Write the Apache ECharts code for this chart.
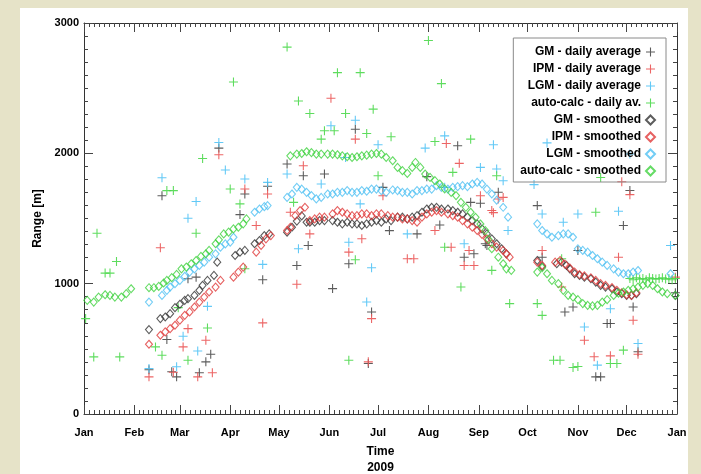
<!DOCTYPE html>
<html>
<head>
<meta charset="utf-8">
<title>Range 2009</title>
<script src="https://cdn.jsdelivr.net/npm/echarts@6/dist/echarts.min.js"></script>
<style>
  html, body { margin: 0; padding: 0; }
  body { width: 701px; height: 474px; background: #E6E3C8; position: relative; overflow: hidden; }
  #panel { position: absolute; left: 20px; top: 8px; width: 668px; height: 466px; background: #ffffff; }
  #chart { position: absolute; left: 0; top: 0; width: 701px; height: 474px; }
</style>
</head>
<body>
<div id="panel"></div>
<div id="chart"></div>
<script>
// Month tick labels
const MONTHS = ['Jan', 'Feb', 'Mar', 'Apr', 'May', 'Jun', 'Jul', 'Aug', 'Sep', 'Oct', 'Nov', 'Dec'];
const YEAR = 2009;

// Daily averages: [day of year (0 = 1 Jan), range in m]
const gmDaily = [
  [40, 339], [48, 1675], [51, 571], [54, 324], [57, 285], [64, 1038], [69, 1050], [71, 316], [75, 400],
  [78, 459], [83, 2040], [96, 1530], [99, 1688], [110, 1030], [113, 1747],
  [125, 1918], [135, 1828], [131, 1140], [138, 1293], [148, 1841], [153, 962], [163, 1153], [167, 2185],
  [175, 388], [177, 783], [184, 1739], [188, 1407], [205, 1382], [211, 1821], [219, 1450], [230, 2058],
  [234, 1203], [238, 1624], [240, 1229], [244, 1617], [247, 1306], [248, 1293], [255, 1701],
  [279, 1599], [282, 1203], [296, 783], [301, 821], [304, 1255], [315, 285], [318, 285], [322, 694],
  [324, 694], [332, 1446], [336, 1715], [338, 821], [341, 478], [364, 930]
];
const ipmDaily = [
  [40, 285], [47, 1275], [55, 320], [61, 515], [64, 655], [70, 285], [75, 566], [79, 316], [83, 1989],
  [99, 1726], [106, 1446], [110, 699], [113, 1688],
  [127, 1548], [131, 995], [135, 1905], [139, 1382], [152, 2423], [163, 1242], [167, 2109], [171, 1344],
  [175, 400], [177, 732], [184, 1675], [199, 1191], [203, 1191], [216, 1408], [223, 2075], [226, 1280],
  [231, 1923], [234, 1140], [237, 1255], [240, 1140], [244, 1675], [251, 1561], [252, 1545], [255, 1650],
  [258, 1662],
  [282, 1255], [294, 974], [308, 566], [314, 439], [324, 446], [329, 1203], [331, 1782], [336, 1683],
  [338, 719], [341, 459], [364, 1050]
];
const lgmDaily = [
  [40, 349], [48, 1813], [57, 362], [61, 597], [64, 1502], [69, 1630], [70, 484], [76, 826], [83, 2083],
  [87, 1872], [99, 1803], [110, 1148], [113, 1777],
  [125, 1841], [132, 1268], [146, 1765], [152, 2211], [161, 1968], [163, 1318], [167, 2254], [170, 1612],
  [174, 859], [177, 1122], [181, 2066], [199, 1382], [210, 2040], [222, 2134], [222, 1739], [234, 1306],
  [244, 1892], [252, 2066], [254, 1880], [258, 1790], [261, 1408],
  [277, 1760], [282, 1535], [285, 2080], [295, 1471], [304, 1535], [308, 668], [316, 375], [324, 808],
  [329, 1555], [336, 1995], [341, 541], [361, 1293]
];
const autoDaily = [
  [1, 732], [6, 438], [8, 1387], [13, 1081], [16, 1081], [20, 1170], [22, 438],
  [44, 515], [48, 451], [51, 1714], [55, 1714], [58, 816], [64, 413], [69, 1387], [73, 1961], [76, 660],
  [90, 1726], [92, 2547], [96, 1612], [99, 1114],
  [125, 2815], [129, 1624], [132, 2402], [139, 2305], [146, 2109], [148, 2173], [154, 2173], [156, 2619],
  [161, 2305], [163, 413], [167, 1183], [170, 2619], [174, 2152], [178, 2339], [181, 1828], [189, 2127],
  [212, 2866], [216, 2091], [220, 2535], [222, 1280], [227, 1854], [232, 974], [238, 2109], [251, 1102],
  [254, 1828], [262, 847],
  [279, 847], [282, 757], [289, 413], [293, 413], [294, 1191], [301, 357], [304, 365], [315, 1548],
  [318, 1815], [324, 388], [328, 388], [332, 490],
  [336, 1040], [338, 1030], [340, 1045], [342, 1035], [344, 1040], [346, 1030], [348, 1045], [350, 1040],
  [352, 1035], [354, 1040], [356, 1045], [358, 1035], [360, 1040], [362, 1030], [364, 1040]
];

// Smoothed values: [day of year, range in m]
const gmSmooth = [
  [40, 648], [47, 732], [50, 744], [53, 770], [56, 816], [59, 842], [62, 872], [64, 885], [68, 910],
  [71, 949], [73, 987], [76, 1025], [80, 1063], [82, 1165], [93, 1216], [96, 1242], [99, 1255],
  [105, 1306], [108, 1331], [111, 1369], [114, 1382],
  [125, 1395], [128, 1433], [131, 1480], [134, 1520], [137, 1471], [139, 1471], [142, 1471], [145, 1484],
  [148, 1484], [153, 1484], [156, 1471], [159, 1459], [162, 1471], [165, 1459], [168, 1459], [171, 1446],
  [174, 1459], [177, 1471], [180, 1484], [183, 1471], [186, 1497], [189, 1484], [193, 1510], [196, 1510],
  [199, 1497], [202, 1510], [205, 1522], [208, 1548], [211, 1573], [214, 1586], [217, 1586], [220, 1573],
  [224, 1573], [227, 1561], [230, 1548], [233, 1535], [236, 1510], [239, 1484], [242, 1459], [245, 1420],
  [248, 1382], [251, 1344], [254, 1306], [257, 1268], [260, 1229],
  [279, 1178], [282, 1132], [291, 1153], [294, 1165], [297, 1140], [299, 1114], [302, 1076], [305, 1063],
  [308, 1050], [312, 1038], [315, 1012], [318, 987], [321, 974], [325, 961], [328, 936], [331, 923],
  [334, 910], [337, 910], [340, 923], [364, 910]
];
const ipmSmooth = [
  [40, 535], [47, 604], [50, 630], [53, 655], [56, 681], [59, 719], [62, 757], [65, 783], [68, 821],
  [71, 859], [74, 897], [77, 936], [81, 974], [84, 1025], [92, 1050], [95, 1089], [98, 1127],
  [106, 1242], [109, 1293], [112, 1344], [115, 1369],
  [125, 1408], [127, 1433], [130, 1522], [133, 1561], [136, 1586], [139, 1484], [142, 1497], [145, 1510],
  [148, 1510], [153, 1535], [156, 1561], [159, 1548], [162, 1535], [165, 1522], [168, 1522], [171, 1535],
  [174, 1535], [177, 1522], [180, 1535], [183, 1535], [187, 1522], [190, 1510], [193, 1510], [196, 1497],
  [199, 1497], [202, 1484], [205, 1471], [208, 1510], [211, 1535], [214, 1548], [217, 1561], [220, 1548],
  [224, 1535], [227, 1522], [230, 1510], [233, 1484], [236, 1459], [239, 1433], [242, 1408], [245, 1377],
  [248, 1344], [251, 1306], [254, 1280], [258, 1255], [260, 1229], [262, 1203],
  [279, 1165], [282, 1140], [290, 1165], [293, 1178], [296, 1150], [299, 1120], [302, 1089], [305, 1070],
  [308, 1060], [312, 1045], [315, 1025], [318, 1000], [321, 987], [325, 970], [328, 949], [331, 930],
  [334, 915], [337, 910], [340, 930]
];
const lgmSmooth = [
  [40, 859], [48, 910], [51, 949], [53, 974], [56, 1000], [59, 1025], [62, 1056], [65, 1089], [68, 1114],
  [71, 1140], [74, 1165], [77, 1203], [81, 1229], [84, 1280], [87, 1305], [90, 1318], [92, 1356],
  [105, 1548], [108, 1573], [111, 1591], [113, 1599],
  [125, 1662], [128, 1688], [131, 1739], [134, 1726], [137, 1701], [140, 1676], [143, 1650], [146, 1662],
  [150, 1688], [153, 1688], [156, 1701], [159, 1701], [162, 1714], [165, 1701], [168, 1701], [171, 1714],
  [174, 1709], [177, 1726], [180, 1726], [183, 1714], [186, 1701], [190, 1719], [193, 1714], [196, 1701],
  [199, 1701], [202, 1688], [205, 1714], [208, 1714], [211, 1726], [214, 1726], [217, 1752], [220, 1739],
  [224, 1726], [227, 1739], [230, 1745], [233, 1752], [236, 1745], [239, 1765], [242, 1777], [245, 1765],
  [248, 1726], [251, 1688], [254, 1640], [258, 1586], [261, 1510],
  [279, 1459], [282, 1408], [285, 1382], [288, 1356], [292, 1369], [295, 1382], [298, 1382], [301, 1356],
  [304, 1267], [307, 1255], [310, 1242], [313, 1216], [316, 1191], [319, 1165], [322, 1140], [326, 1114],
  [329, 1089], [332, 1076], [335, 1076], [338, 1089], [341, 1101], [361, 1076]
];
const autoSmooth = [
  [2, 872], [6, 859], [9, 897], [13, 915], [16, 910], [19, 897], [23, 897], [26, 923], [29, 961],
  [40, 969], [43, 969], [46, 979], [49, 1005], [51, 1025], [54, 1046], [57, 1071], [60, 1114], [63, 1127],
  [66, 1153], [69, 1178], [72, 1209], [75, 1229], [77, 1255], [81, 1306], [83, 1336], [86, 1382],
  [89, 1395], [92, 1420], [95, 1433], [98, 1459], [100, 1497],
  [127, 1981], [131, 1994], [134, 1999], [137, 2012], [140, 2006], [143, 1994], [146, 1994], [150, 1994],
  [153, 1994], [156, 1989], [159, 1981], [162, 1974], [165, 1968], [168, 1974], [171, 1981], [174, 1986],
  [177, 1994], [180, 1999], [183, 1994], [186, 1968], [190, 1943], [193, 1892], [196, 1867], [199, 1846],
  [202, 1892], [204, 1930], [207, 1892], [210, 1841], [213, 1815], [216, 1790], [219, 1765], [222, 1727],
  [226, 1701], [229, 1676], [232, 1624], [235, 1586], [238, 1548], [241, 1509], [244, 1458], [247, 1407],
  [249, 1340], [251, 1268], [255, 1203], [258, 1153], [260, 1114], [263, 1102],
  [279, 1089], [282, 1122], [285, 1076], [288, 1025], [292, 1000], [295, 949], [298, 910], [301, 897],
  [304, 877], [307, 847], [310, 834], [313, 829], [316, 834], [319, 859], [322, 877], [326, 910],
  [329, 928], [332, 936], [335, 949], [338, 961], [341, 974], [344, 987], [347, 1000], [350, 987],
  [353, 961], [356, 936], [359, 923], [364, 910]
];

// Y axis ticks
const Y_MIN = 0, Y_MAX = 3000, Y_STEP = 1000;

const FONT = '"Liberation Sans", Arial, Helvetica, sans-serif';
const PLUS = 'path://M4.4,0H5.6V4.4H10V5.6H5.6V10H4.4V5.6H0V4.4H4.4Z';

function toTime(day) {
  return new Date(YEAR, 0, 1 + day).getTime();
}

const seriesSpecs = [
  { name: 'GM - daily average', pts: gmDaily, kind: 'plus', color: '#4a4a4a' },
  { name: 'IPM - daily average', pts: ipmDaily, kind: 'plus', color: '#ea5454' },
  { name: 'LGM - daily average', pts: lgmDaily, kind: 'plus', color: '#52c3f5' },
  { name: 'auto-calc - daily av.', pts: autoDaily, kind: 'plus', color: '#4cd84c' },
  { name: 'GM - smoothed', pts: gmSmooth, kind: 'diamond', color: '#333333' },
  { name: 'IPM - smoothed', pts: ipmSmooth, kind: 'diamond', color: '#e03a3a' },
  { name: 'LGM - smoothed', pts: lgmSmooth, kind: 'diamond', color: '#4fc0f2' },
  { name: 'auto-calc - smoothed', pts: autoSmooth, kind: 'diamond', color: '#3fd23f' }
];

const series = seriesSpecs.map(s => {
  const isPlus = s.kind === 'plus';
  return {
    name: s.name,
    type: 'scatter',
    xAxisIndex: 0,
    yAxisIndex: 0,
    data: s.pts.map(p => [toTime(p[0]), p[1]]),
    symbol: isPlus ? PLUS : 'diamond',
    symbolSize: isPlus ? 9 : [7, 8],
    itemStyle: isPlus
      ? { color: s.color, opacity: 0.9 }
      : { color: 'rgba(255,255,255,0)', borderColor: s.color, borderWidth: 1.1 },
    emphasis: { disabled: true },
    animation: false
  };
});

const tickLine = { color: '#444', width: 1 };
const labelFont = { fontFamily: FONT, fontWeight: 'bold', fontSize: 11, color: '#000' };

function timeAxis(pos, showLabels) {
  return {
    type: 'time',
    position: pos,
    gridIndex: 0,
    min: toTime(0),
    max: toTime(365),
    splitNumber: 12,
    axisLine: { show: true, onZero: false, lineStyle: { color: '#333', width: 1 } },
    axisTick: { show: true, inside: true, length: 9, lineStyle: tickLine },
    minorTick: { show: true, splitNumber: 10, length: 4, lineStyle: tickLine },
    splitLine: { show: false },
    axisLabel: showLabels ? Object.assign({
      show: true,
      margin: 13,
      hideOverlap: false,
      showMinLabel: true,
      showMaxLabel: true,
      formatter: v => MONTHS[new Date(v).getMonth()]
    }, labelFont) : { show: false }
  };
}

function valueAxis(pos, showLabels) {
  return {
    type: 'value',
    position: pos,
    gridIndex: 0,
    min: Y_MIN,
    max: Y_MAX,
    interval: Y_STEP,
    axisLine: { show: true, onZero: false, lineStyle: { color: '#333', width: 1 } },
    axisTick: { show: true, inside: true, length: 9, lineStyle: tickLine },
    minorTick: { show: true, splitNumber: 10, length: 4, lineStyle: tickLine },
    splitLine: { show: false },
    axisLabel: showLabels
      ? Object.assign({ show: true, margin: 5, formatter: v => String(v) }, labelFont)
      : { show: false }
  };
}

const xBottom = timeAxis('bottom', true);
xBottom.name = 'Time\n2009';
xBottom.nameLocation = 'middle';
xBottom.nameGap = 30;
xBottom.nameTextStyle = { fontFamily: FONT, fontWeight: 'bold', fontSize: 12, color: '#000', lineHeight: 16 };

const yLeft = valueAxis('left', true);
yLeft.name = 'Range [m]';
yLeft.nameLocation = 'middle';
yLeft.nameGap = 40;
yLeft.nameTextStyle = { fontFamily: FONT, fontWeight: 'bold', fontSize: 12, color: '#000' };

const chart = echarts.init(document.getElementById('chart'), null, { renderer: 'canvas' });
chart.setOption({
  backgroundColor: 'transparent',
  animation: false,
  grid: { left: 84, right: 24, top: 23, bottom: 60, containLabel: false, outerBoundsMode: 'none' },
  xAxis: [xBottom, timeAxis('top', false)],
  yAxis: [yLeft, valueAxis('right', false)],
  legend: {
    orient: 'vertical',
    right: 35,
    top: 38,
    align: 'right',
    itemWidth: 9,
    itemHeight: 9,
    itemGap: 5,
    padding: [8, 10, 5, 7],
    borderColor: '#8a8a8a',
    borderWidth: 1,
    backgroundColor: 'transparent',
    selectedMode: false,
    textStyle: { fontFamily: FONT, fontWeight: 'bold', fontSize: 12, color: '#000', lineHeight: 12 },
    data: seriesSpecs.map(s => s.name)
  },
  series: series
});
</script>
</body>
</html>
